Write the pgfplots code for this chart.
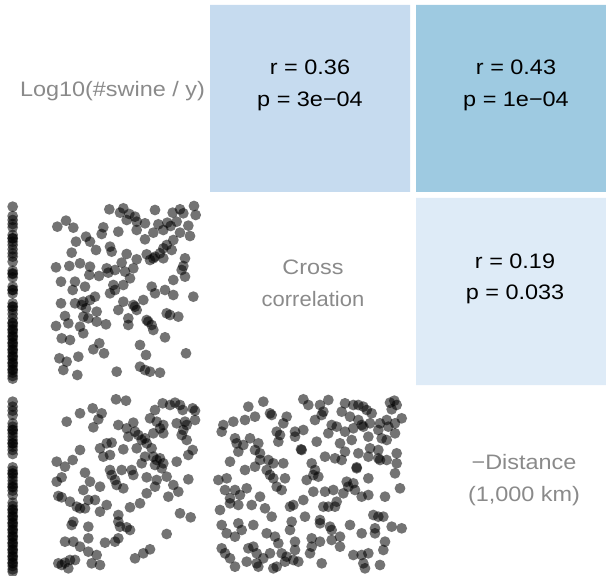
\documentclass[border=0pt]{standalone}
\usepackage{pgfplots}
\pgfplotsset{compat=1.18}
\usepackage{fontspec}
\setmainfont{Liberation Sans}
\definecolor{tileA}{HTML}{C6DBEF}
\definecolor{tileB}{HTML}{9ECAE1}
\definecolor{tileC}{HTML}{DEEBF7}
\definecolor{lab}{HTML}{8A8A8A}
\pgfdeclareplotmark{fdot}{\pgfpathcircle{\pgfpointorigin}{\pgfplotmarksize}\pgfusepathqfill}
\pgfplotsset{
  panel/.style={scale only axis, hide axis, clip=false, y dir=reverse, anchor=south west},
  pts/.style={only marks, mark=fdot, mark size=5.4bp, color=black, mark options={fill=black, fill opacity=0.55}},
}
\newcommand{\tf}{\fontsize{21}{25}\selectfont}
\begin{document}
\begin{tikzpicture}[x=1bp,y=1bp]
\useasboundingbox (0,0) rectangle (606,576);
% base axis in picture pixels
\begin{axis}[panel, at={(0bp,0bp)}, width=606bp, height=576bp, xmin=0, xmax=606, ymin=0, ymax=576]
\addplot[fill=tileA, draw=none] coordinates {(210,5) (410,5) (410,192) (210,192) (210,5)};
\addplot[fill=tileB, draw=none] coordinates {(416,5) (606,5) (606,192) (416,192) (416,5)};
\addplot[fill=tileC, draw=none] coordinates {(416,198) (606,198) (606,385) (416,385) (416,198)};
\node[anchor=base, font=\tf] at (axis cs:310,75) {\scalebox{1.12}[1]{r = 0.36}};
\node[anchor=base, font=\tf] at (axis cs:310,107) {\scalebox{1.12}[1]{p = 3e\textminus 04}};
\node[anchor=base, font=\tf] at (axis cs:516,75) {\scalebox{1.12}[1]{r = 0.43}};
\node[anchor=base, font=\tf] at (axis cs:516,107) {\scalebox{1.12}[1]{p = 1e\textminus 04}};
\node[anchor=base, font=\tf] at (axis cs:515,269) {\scalebox{1.12}[1]{r = 0.19}};
\node[anchor=base, font=\tf] at (axis cs:515,300) {\scalebox{1.12}[1]{p = 0.033}};
\node[anchor=base, font=\tf, text=lab] at (axis cs:112.5,97) {\scalebox{1.12}[1]{Log10(\#swine / y)}};
\node[anchor=base, font=\tf, text=lab] at (axis cs:313,275) {\scalebox{1.12}[1]{Cross}};
\node[anchor=base, font=\tf, text=lab] at (axis cs:313,307) {\scalebox{1.05}[1]{correlation}};
\node[anchor=base, font=\tf, text=lab] at (axis cs:524,469) {\scalebox{1.12}[1]{\textminus Distance}};
\node[anchor=base, font=\tf, text=lab] at (axis cs:524,501) {\scalebox{1.12}[1]{(1,000 km)}};
\end{axis}
% panel row 2 col 1
\begin{axis}[panel, at={(0bp,186bp)}, width=210bp, height=200bp, xmin=0, xmax=630, ymin=0, ymax=600]
\addplot[pts] coordinates {
(38,50) (38,78) (38,90) (38,102) (38,112) (38,135) (38,145) (38,155) (38,165) (38,178) (38,190) (38,200) (38,215) (38,242) (38,252) (38,262) (38,290) (38,300) (38,310) (38,340) (38,350) (38,360) (38,372) (38,385) (38,398) (38,408) (38,418) (38,428) (38,438) (38,448) (38,458) (38,468) (38,478) (38,488) (38,498) (38,508) (38,518) (38,528) (38,538) (38,548) (38,558) (38,566)
(38,145) (38,250) (38,300) (38,350) (38,400) (38,420) (38,440) (38,460) (38,480) (38,500) (38,520) (38,540)
(328,58) (370,55) (360,68) (388,72) (405,80) (380,90) (410,95) (435,100) (465,60) (518,68) (540,58) (550,70) (582,48) (587,75) (530,95) (502,98) (475,103)
(198,92) (172,110) (220,113) (310,112) (305,132) (355,125) (410,120) (460,128) (490,120) (512,108) (540,128) (565,107) (570,138) (435,148) (258,140) (228,155) (270,155)
(288,180) (215,188) (330,170) (335,185) (380,192) (410,208) (440,193) (465,200) (480,190) (490,175) (500,165) (520,150) (515,180) (555,205) (450,210)
(168,232) (208,228) (240,220) (270,230) (268,255) (297,258) (325,248) (320,235) (345,240) (365,218) (375,245) (400,235) (390,265) (460,205) (490,205) (550,228) (520,270) (555,260) (545,240)
(183,275) (225,275) (218,300) (255,290) (340,285) (345,300) (330,310) (370,285) (455,290) (465,310) (495,300) (520,315) (580,320) (285,320) (270,330) (250,335)
(183,340) (225,340) (245,345) (258,355) (250,380) (265,385) (290,365) (355,360) (370,335) (400,345) (410,360) (430,330) (405,350) (500,370) (510,375) (535,380) (195,378) (440,390)
(168,408) (205,400) (240,410) (250,430) (290,395) (318,403) (385,405) (385,385) (445,395) (455,405) (460,420) (495,442) (185,445) (210,450)
(280,478) (298,460) (312,490) (420,465) (438,495) (558,490) (178,505) (200,515) (190,540) (235,500) (232,555) (350,545) (420,530) (435,540) (450,545) (480,548)
};
\end{axis}
% panel row 3 col 1
\begin{axis}[panel, at={(0bp,0bp)}, width=210bp, height=186bp, xmin=0, xmax=630, ymin=0, ymax=558]
\addplot[pts] coordinates {
(38,35) (38,50) (38,62) (38,75) (38,100) (38,110) (38,120) (38,130) (38,140) (38,150) (38,160) (38,170) (38,180) (38,192) (38,232) (38,242) (38,252) (38,262) (38,272) (38,282) (38,292) (38,302) (38,315) (38,338) (38,348) (38,358) (38,368) (38,378) (38,388) (38,398) (38,408) (38,418) (38,428) (38,438) (38,448) (38,458) (38,468) (38,478) (38,488) (38,498) (38,508) (38,518) (38,528) (38,538) (38,545)
(38,120) (38,160) (38,250) (38,290) (38,360) (38,380) (38,400) (38,420) (38,440) (38,460) (38,480) (38,500) (38,520)
(348,28) (378,32) (278,55) (240,70) (305,70) (295,88) (280,112) (200,95) (488,40) (510,45) (525,38) (540,45) (548,60) (578,55) (585,62) (465,60) (450,85) (470,95) (490,105) (530,100) (555,95) (560,105) (585,90) (480,115)
(355,105) (380,115) (400,98) (405,125) (385,140) (415,135) (435,145) (440,160) (425,150) (460,130) (490,130) (550,120) (560,150) (545,135) (578,180) (565,195) (455,175)
(300,175) (320,160) (335,158) (310,200) (330,195) (240,180) (218,210) (170,215) (195,230) (370,178) (410,175) (435,200) (460,200) (470,210) (480,205) (490,220) (485,235) (465,225) (530,215) (425,220)
(255,248) (170,275) (185,262) (270,275) (300,290) (330,240) (335,255) (345,270) (350,285) (370,295) (365,240) (395,240) (400,255) (440,262) (470,270) (465,290) (500,260) (520,285) (565,268) (535,305)
(175,318) (185,322) (210,335) (230,350) (240,355) (255,355) (250,300) (265,330) (285,330) (300,365) (320,345) (355,375) (390,352) (420,340) (440,310) (505,320) (540,370) (572,382)
(220,395) (215,405) (265,410) (355,395) (360,410) (380,412) (390,420) (500,432) (195,455) (220,455) (240,470) (265,445) (315,458) (345,455) (355,445)
(265,485) (290,495) (275,520) (300,525) (405,505) (430,490) (450,478) (175,520) (185,525) (210,510) (205,535) (225,510) (195,518)
};
\end{axis}
% panel row 3 col 2
\begin{axis}[panel, at={(205bp,0bp)}, width=210bp, height=186bp, xmin=0, xmax=630, ymin=0, ymax=558]
\addplot[pts] coordinates {
(175,35) (295,28) (310,45) (345,45) (370,30) (355,65) (350,75) (420,40) (445,45) (460,45) (475,50) (485,60) (500,70) (555,38) (568,32) (575,45) (560,58) (590,85) (130,50) (150,80) (120,90) (85,95) (55,105) (50,125) (195,70) (200,75) (245,80) (235,100) (330,90) (410,65) (435,80) (460,90) (475,110) (495,100) (545,90) (525,100) (570,100) (520,120) (550,110)
(90,145) (95,160) (135,145) (115,165) (100,185) (150,180) (160,160) (165,190) (215,125) (220,155) (225,135) (270,125) (270,140) (295,120) (290,180) (288,178) (335,155) (370,130) (380,105) (395,110) (420,125) (405,160) (440,150) (445,115) (470,105) (490,140) (495,175) (530,145) (545,150) (570,130) (520,180)
(75,215) (165,210) (190,210) (205,220) (235,220) (185,240) (195,255) (205,265) (215,290) (240,265) (230,300) (120,240) (150,230) (40,270) (65,265) (320,220) (330,240) (325,255) (340,260) (305,270) (360,200) (390,205) (410,210) (420,185) (455,235) (455,232) (460,190) (490,200) (520,205) (525,210) (545,210) (575,190) (575,220) (570,250) (490,265)
(75,325) (60,300) (90,300) (105,315) (125,295) (100,345) (75,340) (140,345) (165,320) (180,355) (200,380) (45,360) (255,350) (265,345) (295,330) (325,305) (360,305) (385,300) (395,335) (390,350) (370,350) (355,350) (415,310) (430,290) (450,300) (470,320) (490,315) (540,320) (585,295) (505,375) (520,380) (535,380) (445,280) (425,275)
(50,405) (100,400) (110,420) (145,405) (65,430) (90,440) (185,430) (210,440) (220,460) (260,395) (255,420) (300,380) (345,390) (345,400) (375,410) (380,420) (405,440) (380,450) (435,405) (470,430) (510,430) (510,415) (560,410) (590,415) (540,455) (320,445) (345,455) (270,455)
(50,475) (60,490) (75,505) (90,530) (130,475) (145,470) (155,490) (125,515) (155,520) (160,530) (175,505) (195,490) (205,535) (215,530) (230,490) (245,500) (240,515) (270,480) (280,515) (265,510) (320,470) (315,490) (350,520) (405,470) (445,495) (470,495) (490,490) (475,520) (480,535) (525,525) (535,480)
};
\end{axis}
\end{tikzpicture}
\end{document}
